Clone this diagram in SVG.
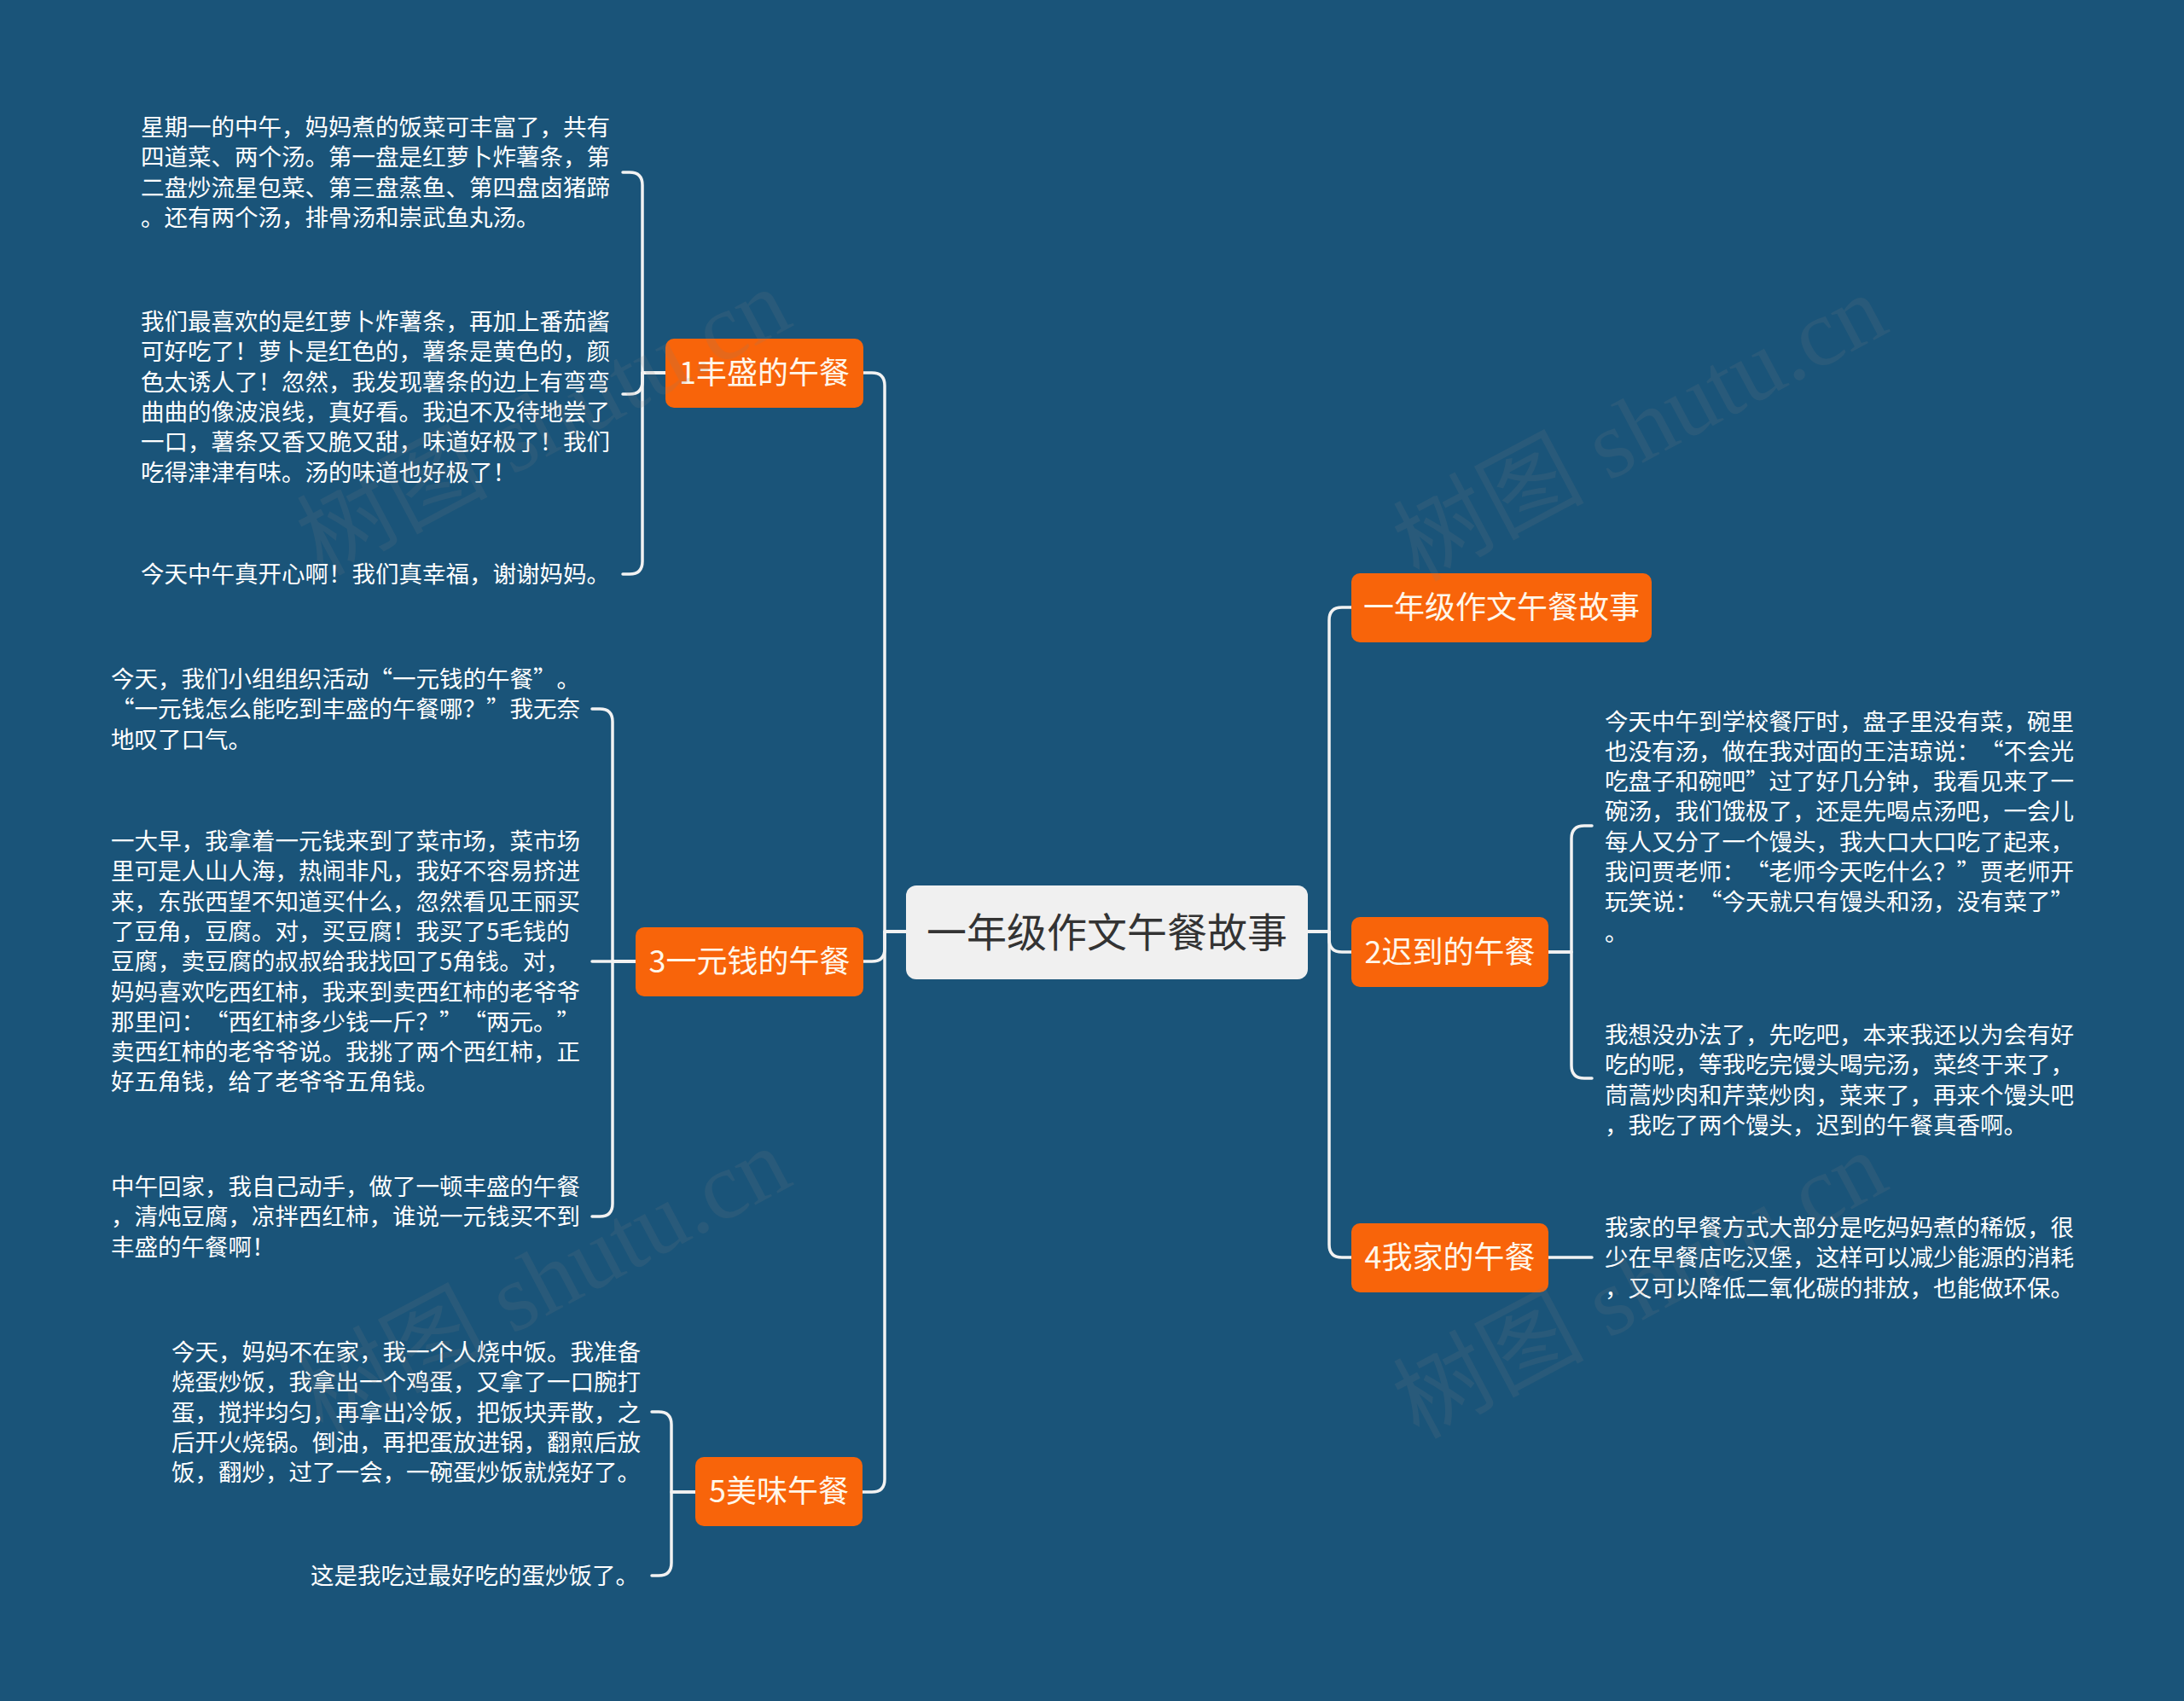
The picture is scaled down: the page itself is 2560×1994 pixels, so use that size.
<svg xmlns="http://www.w3.org/2000/svg" width="2560" height="1994" viewBox="0 0 2560 1994">
<style>
.bg{fill:#1a5479}
.conn path{fill:none;stroke:#f2f2f2;stroke-width:3.5;stroke-linecap:round;stroke-linejoin:round}
.box{fill:#f8640a}
.root{fill:#f0f0f0}
.lbl{font-family:"Noto Sans CJK SC","Microsoft YaHei",sans-serif;font-size:36px;fill:#fff7ea;text-anchor:middle}
.rlbl{font-family:"Noto Sans CJK SC","Microsoft YaHei",sans-serif;font-size:47px;fill:#333333;text-anchor:middle}
.txt{font-family:"Noto Sans CJK SC","Microsoft YaHei",sans-serif;font-size:27.5px;fill:#ffffff;text-spacing-trim:space-all}
.wm{font-family:"Liberation Serif","Noto Sans CJK SC",serif;font-size:112px;fill:#808080;opacity:0.15;text-anchor:middle}
</style>
<rect class="bg" x="0" y="0" width="2560" height="1994"/>

<g id="connectors" class="conn">
<path d="M1062 1092 H1037 V452 Q1037 437 1022 437 H1012"/>
<path d="M1062 1092 H1037 V1112 Q1037 1127 1022 1127 H1012"/>
<path d="M1062 1092 H1037 V1734 Q1037 1749 1022 1749 H1011"/>
<path d="M1533 1092 H1558 V727 Q1558 712 1573 712 H1584"/>
<path d="M1533 1092 H1558 V1101 Q1558 1116 1573 1116 H1584"/>
<path d="M1533 1092 H1558 V1459 Q1558 1474 1573 1474 H1584"/>
<path d="M780 437 H753 V217 Q753 202 738 202 H730"/>
<path d="M780 437 H753 V447 Q753 462 738 462 H730"/>
<path d="M780 437 H753 V658 Q753 673 738 673 H730"/>
<path d="M745 1127 H718 V846 Q718 831 703 831 H694"/>
<path d="M745 1127 H694"/>
<path d="M745 1127 H718 V1411 Q718 1426 703 1426 H694"/>
<path d="M815 1749 H787 V1670 Q787 1655 772 1655 H764"/>
<path d="M815 1749 H787 V1832 Q787 1847 772 1847 H764"/>
<path d="M1815 1116 H1842 V983 Q1842 968 1857 968 H1866"/>
<path d="M1815 1116 H1842 V1249 Q1842 1264 1857 1264 H1866"/>
<path d="M1815 1474 H1866"/>
</g>

<g id="root">
<rect class="root" x="1062" y="1038" width="471" height="110" rx="12"/>
<text class="rlbl" x="1297.5" y="1110">一年级作文午餐故事</text>
</g>

<g id="n1">
<rect class="box" x="780" y="397" width="232" height="81" rx="10"/>
<text class="lbl" x="896" y="450">1丰盛的午餐</text>
</g>
<g id="n3">
<rect class="box" x="745" y="1087" width="267" height="81" rx="10"/>
<text class="lbl" x="878.5" y="1140">3一元钱的午餐</text>
</g>
<g id="n5">
<rect class="box" x="815" y="1708" width="196" height="81" rx="10"/>
<text class="lbl" x="913" y="1761">5美味午餐</text>
</g>
<g id="nt">
<rect class="box" x="1584" y="672" width="352" height="81" rx="10"/>
<text class="lbl" x="1760" y="725">一年级作文午餐故事</text>
</g>
<g id="n2">
<rect class="box" x="1584" y="1075" width="231" height="82" rx="10"/>
<text class="lbl" x="1699.5" y="1129">2迟到的午餐</text>
</g>
<g id="n4">
<rect class="box" x="1584" y="1434" width="231" height="81" rx="10"/>
<text class="lbl" x="1699.5" y="1487">4我家的午餐</text>
</g>

<g id="t1a" class="txt">
<text x="165" y="159">星期一的中午，妈妈煮的饭菜可丰富了，共有</text>
<text x="165" y="194.3">四道菜、两个汤。第一盘是红萝卜炸薯条，第</text>
<text x="165" y="229.6">二盘炒流星包菜、第三盘蒸鱼、第四盘卤猪蹄</text>
<text x="165" y="264.9">。还有两个汤，排骨汤和崇武鱼丸汤。</text>
</g>
<g id="t1b" class="txt">
<text x="165" y="387">我们最喜欢的是红萝卜炸薯条，再加上番茄酱</text>
<text x="165" y="422.3">可好吃了！萝卜是红色的，薯条是黄色的，颜</text>
<text x="165" y="457.6">色太诱人了！忽然，我发现薯条的边上有弯弯</text>
<text x="165" y="492.9">曲曲的像波浪线，真好看。我迫不及待地尝了</text>
<text x="165" y="528.2">一口，薯条又香又脆又甜，味道好极了！我们</text>
<text x="165" y="563.5">吃得津津有味。汤的味道也好极了！</text>
</g>
<g id="t1c" class="txt">
<text x="165" y="683">今天中午真开心啊！我们真幸福，谢谢妈妈。</text>
</g>

<g id="t3a" class="txt">
<text x="130" y="806">今天，我们小组组织活动“一元钱的午餐”。</text>
<text x="130" y="841.3">“一元钱怎么能吃到丰盛的午餐哪？”我无奈</text>
<text x="130" y="876.6">地叹了口气。</text>
</g>
<g id="t3b" class="txt">
<text x="130" y="996">一大早，我拿着一元钱来到了菜市场，菜市场</text>
<text x="130" y="1031.3">里可是人山人海，热闹非凡，我好不容易挤进</text>
<text x="130" y="1066.6">来，东张西望不知道买什么，忽然看见王丽买</text>
<text x="130" y="1101.9">了豆角，豆腐。对，买豆腐！我买了5毛钱的</text>
<text x="130" y="1137.2">豆腐，卖豆腐的叔叔给我找回了5角钱。对，</text>
<text x="130" y="1172.5">妈妈喜欢吃西红柿，我来到卖西红柿的老爷爷</text>
<text x="130" y="1207.8">那里问：“西红柿多少钱一斤？”“两元。”</text>
<text x="130" y="1243.1">卖西红柿的老爷爷说。我挑了两个西红柿，正</text>
<text x="130" y="1278.4">好五角钱，给了老爷爷五角钱。</text>
</g>
<g id="t3c" class="txt">
<text x="130" y="1401">中午回家，我自己动手，做了一顿丰盛的午餐</text>
<text x="130" y="1436.3">，清炖豆腐，凉拌西红柿，谁说一元钱买不到</text>
<text x="130" y="1471.6">丰盛的午餐啊！</text>
</g>

<g id="t5a" class="txt">
<text x="201" y="1595">今天，妈妈不在家，我一个人烧中饭。我准备</text>
<text x="201" y="1630.3">烧蛋炒饭，我拿出一个鸡蛋，又拿了一口腕打</text>
<text x="201" y="1665.6">蛋，搅拌均匀，再拿出冷饭，把饭块弄散，之</text>
<text x="201" y="1700.9">后开火烧锅。倒油，再把蛋放进锅，翻煎后放</text>
<text x="201" y="1736.2">饭，翻炒，过了一会，一碗蛋炒饭就烧好了。</text>
</g>
<g id="t5b" class="txt">
<text x="364" y="1857">这是我吃过最好吃的蛋炒饭了。</text>
</g>

<g id="t2a" class="txt">
<text x="1881" y="855.5">今天中午到学校餐厅时，盘子里没有菜，碗里</text>
<text x="1881" y="890.8">也没有汤，做在我对面的王洁琼说：“不会光</text>
<text x="1881" y="926.1">吃盘子和碗吧”过了好几分钟，我看见来了一</text>
<text x="1881" y="961.4">碗汤，我们饿极了，还是先喝点汤吧，一会儿</text>
<text x="1881" y="996.7">每人又分了一个馒头，我大口大口吃了起来，</text>
<text x="1881" y="1032">我问贾老师：“老师今天吃什么？”贾老师开</text>
<text x="1881" y="1067.3">玩笑说：“今天就只有馒头和汤，没有菜了”</text>
<text x="1881" y="1102.6">。</text>
</g>
<g id="t2b" class="txt">
<text x="1881" y="1223">我想没办法了，先吃吧，本来我还以为会有好</text>
<text x="1881" y="1258.3">吃的呢，等我吃完馒头喝完汤，菜终于来了，</text>
<text x="1881" y="1293.6">茼蒿炒肉和芹菜炒肉，菜来了，再来个馒头吧</text>
<text x="1881" y="1328.9">，我吃了两个馒头，迟到的午餐真香啊。</text>
</g>
<g id="t4" class="txt">
<text x="1881" y="1449">我家的早餐方式大部分是吃妈妈煮的稀饭，很</text>
<text x="1881" y="1484.3">少在早餐店吃汉堡，这样可以减少能源的消耗</text>
<text x="1881" y="1519.6">，又可以降低二氧化碳的排放，也能做环保。</text>
</g>

<g id="watermarks">
<text class="wm" transform="translate(655 528) rotate(-28)">树图 shutu.cn</text>
<text class="wm" transform="translate(1940 535) rotate(-28)">树图 shutu.cn</text>
<text class="wm" transform="translate(655 1535) rotate(-28)">树图 shutu.cn</text>
<text class="wm" transform="translate(1940 1540) rotate(-28)">树图 shutu.cn</text>
</g>
</svg>
